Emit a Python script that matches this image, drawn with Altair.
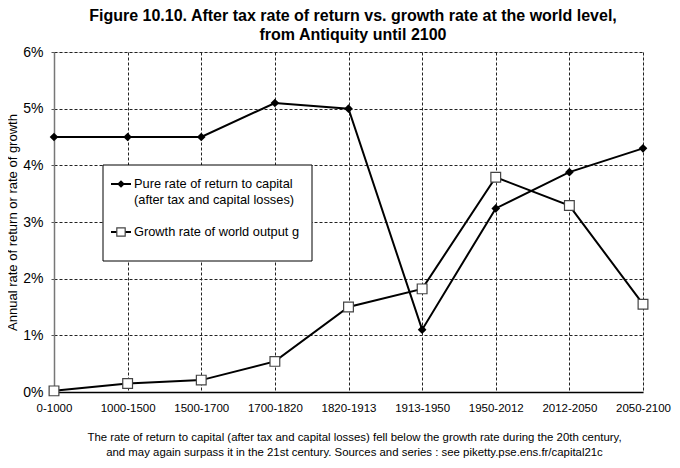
import altair as alt
import pandas as pd

periods = ["0-1000", "1000-1500", "1500-1700", "1700-1820", "1820-1913",
           "1913-1950", "1950-2012", "2012-2050", "2050-2100"]
return_rate = [4.5, 4.5, 4.5, 5.1, 5.0, 1.1, 3.24, 3.88, 4.3]
growth_rate = [0.02, 0.15, 0.21, 0.54, 1.5, 1.82, 3.79, 3.29, 1.55]
y_ticks = [0, 1, 2, 3, 4, 5, 6]

title_lines = ["Figure 10.10. After tax rate of return vs. growth rate at the world level,",
               "from Antiquity until 2100"]
y_title = "Annual rate of return or rate of growth"
footer_lines = ["The rate of return to capital (after tax and capital losses) fell below the growth rate during the 20th century,",
                "and may again surpass it in the 21st century. Sources and series : see piketty.pse.ens.fr/capital21c"]
legend_return = ["Pure rate of return to capital", "(after tax and capital losses)"]
legend_growth = "Growth rate of world output g"

FONT = "Liberation Sans, Arial, Helvetica"

df_r = pd.DataFrame({"period": periods, "value": return_rate})
df_g = pd.DataFrame({"period": periods, "value": growth_rate})
one = pd.DataFrame({"k": [0]})

W, H = 589, 340

x_enc = alt.X("period:N", sort=periods,
              scale=alt.Scale(type="point", padding=0),
              axis=alt.Axis(title=None, labelAngle=0, ticks=False, grid=True,
                            gridDash=[3, 2], gridColor="#222", gridWidth=1,
                            domainColor="#000", domainWidth=1.5,
                            labelFont=FONT, labelFontSize=11.5, labelColor="#000",
                            labelPadding=10))
y_enc = alt.Y("value:Q", scale=alt.Scale(domain=[0, 6]),
              axis=alt.Axis(title=y_title, values=y_ticks, labelExpr="datum.value + '%'",
                            grid=True, gridDash=[3, 2], gridColor="#222", gridWidth=1,
                            domainColor="#777", domainWidth=1.5, tickSize=3, tickColor="#555",
                            labelFont=FONT, labelFontSize=14, labelColor="#000", labelPadding=8,
                            titleFont=FONT, titleFontSize=13, titleFontWeight="normal",
                            titleColor="#000", titlePadding=3))

line_r = alt.Chart(df_r).mark_line(color="#000", strokeWidth=2).encode(x=x_enc, y=y_enc)
pts_r = alt.Chart(df_r).mark_point(shape="diamond", filled=True, color="#000", size=75, opacity=1).encode(
    x=alt.X("period:N", sort=periods), y="value:Q")
line_g = alt.Chart(df_g).mark_line(color="#000", strokeWidth=2).encode(x=alt.X("period:N", sort=periods), y="value:Q")
pts_g = alt.Chart(df_g).mark_point(shape="square", filled=True, fill="#fff", stroke="#444",
                                   strokeWidth=1.2, size=95, opacity=1).encode(
    x=alt.X("period:N", sort=periods), y="value:Q")

# legend box (drawn as decoration)
LX0, LX1, LY0, LY1 = 49, 258, 113, 209
box = alt.Chart(one).mark_rect(fill="#fff", stroke="#000", strokeWidth=1).encode(
    x=alt.value(LX0), x2=alt.value(LX1), y=alt.value(LY0), y2=alt.value(LY1))
seg1 = alt.Chart(one).mark_rule(color="#000", strokeWidth=2).encode(
    x=alt.value(57), x2=alt.value(77), y=alt.value(132))
mk1 = alt.Chart(one).mark_point(shape="diamond", filled=True, color="#000", size=60, opacity=1).encode(
    x=alt.value(67), y=alt.value(132))
tx1 = alt.Chart(one).mark_text(text=legend_return, align="left", baseline="middle", font=FONT,
                               fontSize=12.8, lineHeight=16, color="#000").encode(
    x=alt.value(80), y=alt.value(132))
seg2 = alt.Chart(one).mark_rule(color="#000", strokeWidth=2).encode(
    x=alt.value(57), x2=alt.value(77), y=alt.value(180))
mk2 = alt.Chart(one).mark_point(shape="square", filled=True, fill="#fff", stroke="#444",
                                strokeWidth=1.2, size=70, opacity=1).encode(
    x=alt.value(67), y=alt.value(180))
tx2 = alt.Chart(one).mark_text(text=legend_growth, align="left", baseline="middle", font=FONT,
                               fontSize=12.8, color="#000").encode(
    x=alt.value(80), y=alt.value(180))

footer = alt.Chart(one).mark_text(text=footer_lines, align="center", baseline="top", font=FONT,
                                  fontSize=11.4, lineHeight=15, color="#000").encode(
    x=alt.value(W / 2 + 6), y=alt.value(H + 40))

chart = alt.layer(line_r, line_g, pts_r, pts_g, box, seg1, mk1, tx1, seg2, mk2, tx2, footer).properties(
    width=W, height=H,
    title=alt.TitleParams(text=title_lines, font=FONT, fontSize=16, fontWeight="bold",
                          color="#000", anchor="middle", lineHeight=19, offset=2, dx=4.5),
    autosize=alt.AutoSizeParams(type="none"),
    padding={"left": 46, "top": 44, "right": 29, "bottom": 68},
).configure_view(stroke="#777", strokeWidth=1.5).configure(background="#fff")

chart.save("out.html", embed_options={"renderer": "svg", "actions": False})
